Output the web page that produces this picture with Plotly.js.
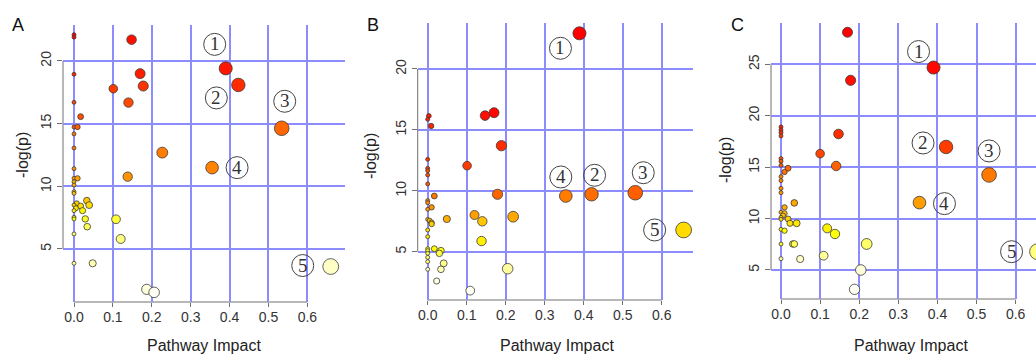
<!DOCTYPE html>
<html><head><meta charset="utf-8">
<script src="https://cdn.plot.ly/plotly-3.0.1.min.js"></script>
<style>html,body{margin:0;padding:0;background:#fff;}#chart{width:1036px;height:355px;}</style>
</head><body><div id="chart"></div>
<script>
// ---------------- data ----------------
const panelNames = ['A', 'B', 'C'];
const xTitle = 'Pathway Impact';
const yTitle = '-log(p)';
const pointLabels = ['1', '2', '3', '4', '5'];

const impactA = [0, 0, 0.148, 0, 0, 0.017, 0, 0.009, 0, 0, 0, 0, 0.009, 0, 0, 0, 0, 0, 0.007, 0.017, 0.033, 0.039, 0, 0.005, 0.022, 0, 0, 0.029, 0.034, 0, 0, 0.048, 0.101, 0.14, 0.17, 0.178, 0.138, 0.108, 0.12, 0.227, 0.39, 0.4225, 0.355, 0.534, 0.66, 0.187, 0.206];
const logpA   = [22.1, 21.9, 21.7, 18.94, 16.7, 15.56, 14.73, 14.73, 14.18, 13.06, 11.41, 10.64, 10.64, 10.37, 10.1, 9.57, 9.44, 8.5, 8.64, 8.43, 8.86, 8.5, 8.06, 8.25, 8.06, 7.53, 7.4, 7.4, 6.78, 6.2, 3.86, 3.86, 17.79, 16.68, 18.99, 18.0, 10.77, 7.37, 5.8, 12.69, 19.41, 18.09, 11.49, 14.63, 3.6, 1.78, 1.54];
const labelIdxA = [40, 41, 43, 42, 44];

const impactB = [0.389, 0.003, 0, 0.009, 0.147, 0.17, 0.189, 0.101, 0, 0, 0, 0, 0, 0.017, 0.179, 0.354, 0.42, 0.532, 0.656, 0, 0, 0, 0.01, 0, 0.005, 0.01, 0.01, 0.049, 0.12, 0.14, 0.219, 0, 0, 0.138, 0, 0, 0, 0, 0, 0.017, 0.034, 0.03, 0.041, 0.034, 0, 0.023, 0.205, 0.109];
const logpB   = [22.93, 16.14, 15.87, 15.32, 16.17, 16.41, 13.7, 12.06, 12.58, 11.84, 11.65, 11.29, 10.56, 9.57, 9.71, 9.57, 9.71, 9.84, 6.78, 9.19, 9.02, 8.48, 8.64, 7.65, 7.54, 7.38, 7.27, 7.68, 8.01, 7.49, 7.87, 6.78, 6.23, 5.87, 5.24, 5.08, 4.86, 4.53, 4.18, 5.24, 5.08, 4.86, 4.04, 3.55, 3.55, 2.59, 3.6, 1.8];
const labelIdxB = [0, 16, 17, 15, 18];

const impactC = [0.17, 0.39, 0.178, 0.147, 0.1, 0.141, 0.422, 0.532, 0.354, 0.656, 0, 0, 0, 0, 0, 0, 0, 0.009, 0.018, 0, 0, 0, 0, 0.034, 0.009, 0, 0.009, 0, 0.018, 0, 0.023, 0.04, 0, 0.009, 0.118, 0.138, 0, 0.03, 0.034, 0.219, 0, 0.049, 0.109, 0.204, 0.188, 0.005];
const logpC   = [28.11, 24.68, 23.44, 18.22, 16.31, 15.11, 16.96, 14.24, 11.55, 6.78, 18.91, 18.62, 18.36, 18.03, 15.83, 15.57, 15.18, 14.53, 14.89, 14.08, 13.69, 12.94, 12.52, 11.52, 11.09, 10.61, 10.51, 10.12, 9.96, 9.93, 9.54, 9.54, 8.95, 8.82, 9.05, 8.5, 7.53, 7.53, 7.53, 7.53, 6.1, 6.07, 6.39, 5.0, 3.12, 10.3];
const labelIdxC = [1, 6, 7, 8, 9];

// ---------------- layout settings ----------------
const W = 1036, H = 355;
const panels = [
  {impact: impactA, logp: logpA, labelIdx: labelIdxA,
   box: {l: 63, r: 345, t: 25, b: 302}, xr: [-0.0283, 0.6967], yr: [0.771, 22.87], ytop: 20,
   letter: [18, 25], ytitle: [22, 155], xtitle: [204],
   offs: [[-11, -24], [-22, 13], [3, -27], [25, 0], [-28, -1]]},
  {impact: impactB, logp: logpB, labelIdx: labelIdxB,
   box: {l: 417.7, r: 693, t: 23.3, b: 300}, xr: [-0.0256, 0.680], yr: [1.03, 23.75], ytop: 20,
   letter: [373, 25], ytitle: [370, 156], xtitle: [557],
   offs: [[-19, 15], [3, -19], [8, -20], [-5, -19], [-29, 0]]},
  {impact: impactC, logp: logpC, labelIdx: labelIdxC,
   box: {l: 771, r: 1036, t: 22.7, b: 299}, xr: [-0.0256, 0.652], yr: [2.18, 29.04], ytop: 25,
   letter: [737, 25], ytitle: [725, 160], xtitle: [911],
   offs: [[-15, -16], [-23, -4], [0, -24], [25, 1], [-26, 0]]}
];

function hsv(h, s, v) {
  const i = Math.floor(h * 6), f = h * 6 - i;
  const p = v * (1 - s), q = v * (1 - f * s), t = v * (1 - (1 - f) * s);
  let r, g, b;
  switch (i % 6) {
    case 0: r = v; g = t; b = p; break;
    case 1: r = q; g = v; b = p; break;
    case 2: r = p; g = v; b = t; break;
    case 3: r = p; g = q; b = v; break;
    case 4: r = t; g = p; b = v; break;
    default: r = v; g = p; b = q;
  }
  const c = x => Math.round(x * 255).toString(16).padStart(2, '0');
  return '#' + c(r) + c(g) + c(b);
}
// R's heat.colors(n)
function heatColors(n) {
  const j = Math.floor(n / 4), i = n - j, out = [];
  for (let k = 0; k < i; k++) out.push(hsv(i > 1 ? (k / (i - 1)) / 6 : 0, 1, 1));
  for (let k = 0; k < j; k++) {
    const s0 = 1 - 1 / (2 * j), s1 = 1 / (2 * j);
    out.push(hsv(1 / 6, j > 1 ? s0 + (s1 - s0) * k / (j - 1) : s0, 1));
  }
  return out;
}

const gridColor = '#8c8cff';
const axisGray = '#707070';
const tickFont = {family: 'Liberation Sans, Arial, sans-serif', size: 14, color: '#333333'};
const traces = [], shapes = [], annotations = [], layout = {};
const px2x = px => px / W, px2y = py => 1 - py / H;

panels.forEach((P, k) => {
  const sfx = k === 0 ? '' : String(k + 1);
  const xa = 'x' + sfx, ya = 'y' + sfx;
  const n = P.impact.length;
  // sort by decreasing -log(p), as MetaboAnalyst does
  const order = [...Array(n).keys()].sort((a, b) => P.logp[b] - P.logp[a] || a - b);
  const cols = heatColors(n);
  const sq = P.impact.map(Math.sqrt);
  const mn = Math.min(...sq), mx = Math.max(...sq);
  const maxR = (mx - mn) / 40, minR = (mx - mn) / 160;
  const pxX = (P.box.r - P.box.l) / (P.xr[1] - P.xr[0]);
  const pxY = (P.box.b - P.box.t) / (P.yr[1] - P.yr[0]);
  traces.push({
    type: 'scatter', mode: 'markers', xaxis: xa, yaxis: ya, cliponaxis: true,
    x: order.map(i => P.impact[i]), y: order.map(i => P.logp[i]),
    marker: {
      color: order.map((i, r) => cols[r]),
      size: order.map(i => 2 * (minR + (maxR - minR) * (sq[i] - mn) / (mx - mn)) * pxX),
      sizemode: 'diameter',
      line: {color: '#3a3a3a', width: 0.8}, opacity: 1
    },
    hoverinfo: 'skip', showlegend: false
  });
  const axisKey = k === 0 ? '' : String(k + 1);
  layout['xaxis' + axisKey] = {
    domain: [px2x(P.box.l), px2x(P.box.r)], range: P.xr, anchor: ya,
    tick0: 0, dtick: 0.1, tickformat: '.1f', showgrid: true, gridcolor: gridColor, gridwidth: 2,
    zeroline: false, showline: false, ticks: 'outside', ticklen: 4, tickcolor: axisGray, tickwidth: 1,
    ticklabelstandoff: -2, tickfont: tickFont, fixedrange: true
  };
  layout['yaxis' + axisKey] = {
    domain: [px2y(P.box.b), px2y(P.box.t)], range: P.yr, anchor: xa,
    tick0: 0, dtick: 5, showgrid: true, gridcolor: gridColor, gridwidth: 2,
    zeroline: false, showline: false, ticks: 'outside', ticklen: 5, tickcolor: axisGray, tickwidth: 1,
    tickangle: -90, tickfont: tickFont, fixedrange: true
  };
  // R-style axis lines spanning first to last tick
  shapes.push({type: 'line', xref: xa, yref: ya + ' domain', x0: 0, x1: 0.6, y0: 0, y1: 0,
               line: {color: axisGray, width: 1}, layer: 'below'});
  shapes.push({type: 'line', xref: xa + ' domain', yref: ya, x0: 0, x1: 0, y0: 5, y1: P.ytop,
               line: {color: axisGray, width: 1}, layer: 'below'});
  // circled labels next to the marked pathways
  P.labelIdx.forEach((idx, m) => {
    const [dx, dy] = P.offs[m];
    const xv = P.impact[idx] + dx / pxX, yv = P.logp[idx] - dy / pxY;
    shapes.push({type: 'circle', xref: xa, yref: ya, xsizemode: 'pixel', ysizemode: 'pixel',
                 xanchor: xv, yanchor: yv, x0: -11, x1: 11, y0: -11, y1: 11,
                 line: {color: '#444444', width: 1}, fillcolor: 'rgba(0,0,0,0)'});
    annotations.push({xref: xa, yref: ya, x: xv, y: yv, yshift: 0.5,
                      text: pointLabels[m], showarrow: false, xanchor: 'center', yanchor: 'middle',
                      font: {family: 'Liberation Serif, Times New Roman, serif', size: 19, color: '#333333'}});
  });
  annotations.push({xref: 'paper', yref: 'paper', x: px2x(P.letter[0]), y: px2y(P.letter[1]),
                    text: panelNames[k], showarrow: false, xanchor: 'center', yanchor: 'middle',
                    font: {family: 'Liberation Sans, Arial, sans-serif', size: 18, color: '#111111'}});
  annotations.push({xref: 'paper', yref: 'paper', x: px2x(P.ytitle[0]), y: px2y(P.ytitle[1]),
                    text: yTitle, textangle: -90, showarrow: false, xanchor: 'center', yanchor: 'middle',
                    font: {family: 'Liberation Sans, Arial, sans-serif', size: 16, color: '#222222'}});
  annotations.push({xref: 'paper', yref: 'paper', x: px2x(P.xtitle[0]), y: 0,
                    text: xTitle, showarrow: false, xanchor: 'center', yanchor: 'bottom', borderpad: 0,
                    font: {family: 'Liberation Sans, Arial, sans-serif', size: 16, color: '#222222'}});
});

Object.assign(layout, {
  width: W, height: H, margin: {l: 0, r: 0, t: 0, b: 0},
  paper_bgcolor: '#ffffff', plot_bgcolor: '#ffffff',
  showlegend: false, hovermode: false, shapes: shapes, annotations: annotations
});

Plotly.newPlot('chart', traces, layout, {staticPlot: true, displayModeBar: false});
</script>
</body></html>
